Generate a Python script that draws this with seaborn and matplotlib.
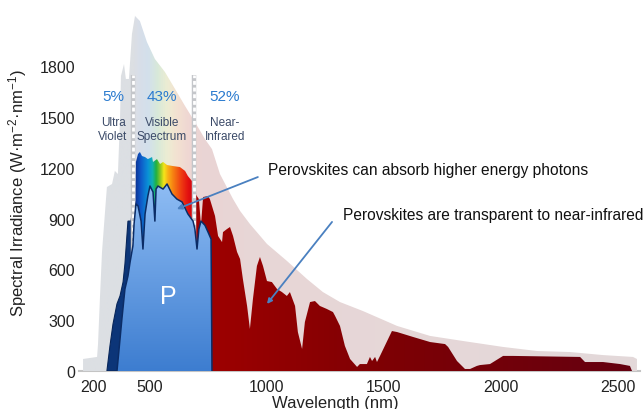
import numpy as np
import pandas as pd
import seaborn as sns
import matplotlib.pyplot as plt
from matplotlib.patches import Polygon
from matplotlib.colors import LinearSegmentedColormap

sns.set_theme(style="white")
plt.rcParams['font.family'] = ['Liberation Sans', 'DejaVu Sans']
plt.rcParams['mathtext.default'] = 'regular'

# outer envelope of the spectrum (wavelength nm, irradiance)
envelope = [(214, 0), (214, 71), (274, 83), (278, 159), (286, 425), (295, 702), (312, 1015),
            (316, 1086), (338, 1104), (350, 1181), (363, 1163), (372, 1488), (376, 1741),
            (389, 1812), (397, 1724), (410, 1724), (423, 1989), (436, 2096), (457, 2066),
            (487, 1942), (521, 1842), (564, 1765), (607, 1665), (650, 1564), (692, 1470),
            (735, 1369), (765, 1310), (799, 1163), (855, 1015), (885, 945), (927, 868),
            (1000, 750), (1085, 650), (1171, 543), (1239, 466), (1312, 407), (1410, 354),
            (1556, 266), (1697, 207), (1838, 177), (2009, 142), (2154, 118), (2295, 112),
            (2436, 94), (2564, 83), (2581, 71), (2581, 0)]

# ultra violet part at ground level
uv = [(316, 0), (329, 148), (342, 277), (359, 396), (372, 443), (385, 525), (393, 632),
      (402, 809), (406, 885), (419, 885), (427, 960), (436, 1000), (436, 0)]

# visible part at ground level
visible = [(436, 0), (436, 779), (440, 1234), (449, 1281), (457, 1293), (466, 1269),
           (479, 1263), (491, 1251), (509, 1263), (513, 1234), (530, 1251), (543, 1222),
           (556, 1234), (573, 1216), (598, 1210), (628, 1204), (650, 1181), (662, 1151),
           (679, 1122), (692, 1098), (697, 1050), (697, 0)]

# part absorbed by the perovskite
perovskite = [(359, 0), (372, 189), (380, 307), (393, 484), (406, 561), (415, 643),
              (427, 738), (432, 868), (440, 986), (449, 974), (462, 885), (470, 720),
              (479, 927), (491, 1033), (500, 1092), (513, 1057), (521, 885), (526, 1074),
              (534, 1092), (556, 1074), (573, 1104), (594, 1045), (615, 1015), (637, 998),
              (662, 927), (684, 885), (692, 838), (701, 720), (709, 838), (718, 885),
              (735, 860), (748, 820), (761, 779), (765, 0)]

# near infrared part at ground level
near_ir = [(697, 0), (697, 1040), (709, 1015), (718, 860), (727, 1027), (748, 1033),
           (756, 1015), (778, 915), (791, 797), (808, 761), (812, 820), (829, 838),
           (842, 850), (855, 797), (872, 703), (885, 661), (897, 543), (915, 384),
           (927, 248), (940, 425), (957, 620), (970, 673), (983, 620), (1000, 531),
           (1021, 525), (1043, 484), (1064, 466), (1085, 443), (1098, 466), (1120, 384),
           (1132, 230), (1150, 130), (1162, 289), (1184, 407), (1205, 413), (1226, 384),
           (1256, 366), (1282, 348), (1291, 325), (1312, 266), (1333, 148), (1355, 71),
           (1385, 24), (1397, 41), (1427, 41), (1440, 83), (1449, 59), (1462, 83),
           (1470, 53), (1483, 89), (1534, 236), (1556, 230), (1624, 201), (1697, 171),
           (1761, 159), (1774, 142), (1812, 59), (1846, 12), (1868, 12), (1897, 30),
           (1910, 35), (1953, 41), (1974, 59), (2009, 89), (2051, 89), (2338, 83),
           (2359, 53), (2436, 53), (2509, 41), (2551, 30), (2560, 0)]

band_edges = [427, 688]
band_pct = ["5%", "43%", "52%"]
band_names = ["Ultra\nViolet", "Visible\nSpectrum", "Near-\nInfrared"]
band_x = [342, 551, 821]

x_ticks = [200, 500, 1000, 1500, 2000, 2500]
y_ticks = [0, 300, 600, 900, 1200, 1500, 1800]

# colour ramps (wavelength or irradiance, colour)
env_colors = [(214, '#dcdfe3'), (430, '#dcdfe3'), (445, '#d9dee8'), (490, '#d3e0ec'),
              (530, '#d8e9d9'), (570, '#ecedd3'), (610, '#f3e2d1'), (660, '#efd7d3'),
              (720, '#ead4d4'), (900, '#e8d6d6'), (2581, '#e3d9da')]
rainbow = [(436, '#0a2f8f'), (460, '#0f58c8'), (490, '#0a90d8'), (510, '#10b0b0'),
           (525, '#20b040'), (545, '#9ccc20'), (558, '#f5e61a'), (575, '#f9b016'),
           (600, '#f67a12'), (630, '#ef3e12'), (660, '#e31010'), (697, '#c00010')]
ir_colors = [(697, '#a00000'), (1500, '#7e0004'), (2560, '#650010')]
p_colors = [(0, '#3d7dd0'), (1110, '#8fbdf4')]

fig = plt.figure(figsize=(6.43, 4.10), dpi=100)
ax = fig.add_axes([78.6 / 643, 38 / 410, 561.4 / 643, 362 / 410])


def grad_fill(pts, stops, zorder, vertical=False):
    pts = np.array(pts, float)
    poly = Polygon(pts, closed=True, facecolor='none', edgecolor='none',
                   transform=ax.transData)
    ax.add_patch(poly)
    lo, hi = stops[0][0], stops[-1][0]
    cmap = LinearSegmentedColormap.from_list(
        'g', [((p - lo) / (hi - lo), c) for p, c in stops])
    ramp = np.linspace(0, 1, 512)
    if vertical:
        img = ramp[:, None]
        ext = [pts[:, 0].min(), pts[:, 0].max(), lo, hi]
    else:
        img = ramp[None, :]
        ext = [lo, hi, 0, pts[:, 1].max()]
    im = ax.imshow(img, cmap=cmap, aspect='auto', extent=ext, origin='lower',
                   zorder=zorder, interpolation='bilinear')
    im.set_clip_path(poly)


grad_fill(envelope, env_colors, 1)
grad_fill(near_ir, ir_colors, 2)
grad_fill(visible, rainbow, 3)
uv_df = pd.DataFrame(uv, columns=['wl', 'val'])
ax.fill(uv_df.wl, uv_df.val, color='#0c3578', lw=0.8, ec='#08265a', zorder=3.5)

for xe in band_edges:
    ax.plot([xe, xe], [0, 1750], color='#c4c6ca', lw=3.2, zorder=4, solid_capstyle='butt')
    ax.plot([xe, xe], [0, 1750], color='white', lw=2.0, ls=(0, (1.4, 1.0)), zorder=4.1)

grad_fill(perovskite, p_colors, 5, vertical=True)
p_df = pd.DataFrame(perovskite, columns=['wl', 'val'])
sns.lineplot(data=p_df, x='wl', y='val', ax=ax, sort=False, estimator=None,
             color='#0b2c66', lw=1.1, zorder=6)

ax.set_xlim(195, 2594)
ax.set_ylim(0, 2137)

for xb, pct, name in zip(band_x, band_pct, band_names):
    ax.text(xb, 1623, pct, color='#2b7bcf', fontsize=11, ha='center', va='center', zorder=8)
    ax.text(xb, 1428, name, color='#3b4a68', fontsize=8.5, ha='center', va='center',
            linespacing=1.25, zorder=8)

ax.text(580, 440, "P", color='white', fontsize=18, ha='center', va='center', zorder=8)

ax.text(1004, 1192, "Perovskites can absorb higher energy photons", fontsize=11.2,
        color='#111111', ha='left', va='center', zorder=8)
ax.text(1325, 921, "Perovskites are transparent to near-infrared", fontsize=11.2,
        color='#111111', ha='left', va='center', zorder=8)
arrow = dict(arrowstyle='-|>', color='#4a80c0', lw=1.3, mutation_scale=7,
             shrinkA=0, shrinkB=0)
ax.annotate('', xy=(615, 956), xytext=(961, 1145), arrowprops=arrow, zorder=8)
ax.annotate('', xy=(1000, 396), xytext=(1278, 880), arrowprops=arrow, zorder=8)

ax.set_xticks(x_ticks)
ax.set_yticks(y_ticks)
ax.tick_params(axis='both', length=0, labelsize=11.5, labelcolor='#222222')
ax.tick_params(axis='y', pad=2.5)
ax.tick_params(axis='x', pad=6)
ax.get_xticklabels()[0].set_horizontalalignment('left')
ax.set_xlabel('')
ax.set_ylabel('')
sns.despine(ax=ax, left=True)
ax.spines['bottom'].set_color('#c4c4c4')
ax.spines['bottom'].set_linewidth(1.5)
ax.spines['bottom'].set_zorder(0.5)

fig.text(335 / 643, 2 / 410, "Wavelength (nm)", fontsize=12, color='#222222',
         ha='center', va='baseline')
fig.text(18 / 643, 1 - 193 / 410, r"Spectral Irradiance (W·m$^{-2}$·nm$^{-1}$)",
         fontsize=12, color='#222222', rotation=90, ha='center', va='center')

fig.savefig('out.png', dpi=100)
